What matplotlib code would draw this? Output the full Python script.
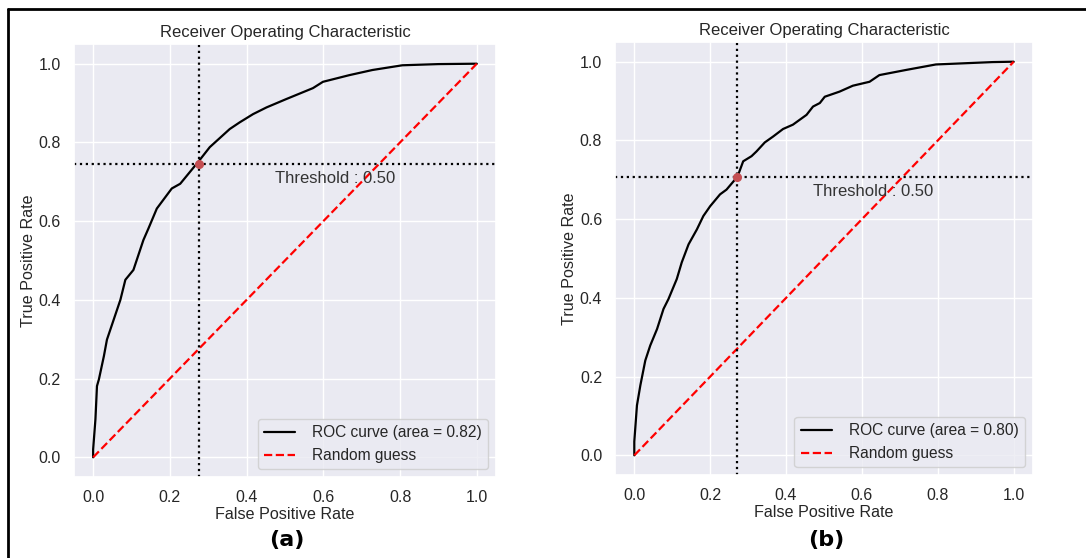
import matplotlib
matplotlib.use("Agg")
import matplotlib.pyplot as plt
import seaborn as sns
from matplotlib.lines import Line2D

# ---- data ----
fpr_a = [0.0, 0.0, 0.006, 0.010, 0.015, 0.028, 0.036, 0.071, 0.084, 0.105, 0.131,
         0.144, 0.166, 0.205, 0.227, 0.275, 0.304, 0.330, 0.356, 0.382, 0.417,
         0.452, 0.503, 0.573, 0.599, 0.668, 0.728, 0.806, 0.90, 1.0]
tpr_a = [0.0, 0.02, 0.097, 0.181, 0.198, 0.257, 0.299, 0.400, 0.451, 0.476, 0.552,
         0.581, 0.632, 0.683, 0.695, 0.752, 0.788, 0.811, 0.834, 0.851, 0.872,
         0.889, 0.910, 0.938, 0.954, 0.971, 0.984, 0.996, 0.999, 1.0]
fpr_b = [0.0, 0.0, 0.007, 0.016, 0.029, 0.042, 0.060, 0.077, 0.090, 0.112, 0.125,
         0.143, 0.165, 0.182, 0.200, 0.226, 0.243, 0.272, 0.287, 0.309, 0.322,
         0.344, 0.366, 0.392, 0.418, 0.454, 0.471, 0.489, 0.502, 0.541, 0.576,
         0.620, 0.646, 0.716, 0.795, 0.944, 1.0]
tpr_b = [0.0, 0.035, 0.127, 0.178, 0.241, 0.279, 0.321, 0.372, 0.397, 0.448, 0.490,
         0.536, 0.574, 0.608, 0.633, 0.663, 0.675, 0.708, 0.747, 0.760, 0.772,
         0.795, 0.810, 0.829, 0.840, 0.865, 0.886, 0.895, 0.911, 0.924, 0.939,
         0.949, 0.966, 0.979, 0.993, 0.999, 1.0]
auc_values = [0.82, 0.80]
threshold_points = [(0.275, 0.746), (0.272, 0.708)]
threshold_value = 0.50
panel_labels = ["(a)", "(b)"]

sns.set_theme(style="darkgrid")
plt.rcParams["font.family"] = ["Liberation Sans", "DejaVu Sans"]

fig = plt.figure(figsize=(10.86, 5.58), dpi=100)
rects = [[0.0681, 0.1452, 0.3886, 0.7759], [0.5666, 0.1487, 0.3843, 0.7760]]
curves = [(fpr_a, tpr_a), (fpr_b, tpr_b)]

for i in range(2):
    ax = fig.add_axes(rects[i])
    fpr, tpr = curves[i]
    ax.plot(fpr, tpr, color="black", lw=1.6,
            label=f"ROC curve (area = {auc_values[i]:.2f})")
    ax.plot([0, 1], [0, 1], color="red", lw=1.6, ls="--", label="Random guess")
    tx, ty = threshold_points[i]
    ax.axvline(tx, color="black", ls=":", lw=1.6)
    ax.axhline(ty, color="black", ls=":", lw=1.6)
    ax.plot([tx], [ty], "o", color="#C44E52", ms=5.5, zorder=5)
    ax.text(tx + 0.2, ty - 0.05, f"Threshold : {threshold_value:.2f}",
            fontsize=12, color="#333333")
    ax.set_xlim(-0.05, 1.05)
    ax.set_ylim(-0.05, 1.05)
    ax.set_xticks([0, 0.2, 0.4, 0.6, 0.8, 1.0])
    ax.set_yticks([0, 0.2, 0.4, 0.6, 0.8, 1.0])
    ax.tick_params(labelsize=11.5, colors="#262626")
    ax.set_xlabel("False Positive Rate", fontsize=11.6, labelpad=1)
    ax.set_ylabel("True Positive Rate", fontsize=11.6, labelpad=2)
    ax.set_title("Receiver Operating Characteristic", fontsize=12, pad=5)
    ax.legend(loc="lower right", fontsize=11.2, handletextpad=1.1)
    cx = rects[i][0] + rects[i][2] / 2
    fig.text(cx + 0.002, 1 - 540 / 558, panel_labels[i], ha="center", va="center",
             fontsize=16, fontweight="bold", family="DejaVu Sans", color="black")

# frame lines (top and left)
fig.add_artist(Line2D([7.5 / 1086, 1.0], [1 - 9 / 558, 1 - 9 / 558],
                      transform=fig.transFigure, color="black", lw=2))
fig.add_artist(Line2D([7.5 / 1086, 7.5 / 1086], [0.0, 1 - 9 / 558],
                      transform=fig.transFigure, color="black", lw=2))

fig.savefig("out.png", dpi=100)
